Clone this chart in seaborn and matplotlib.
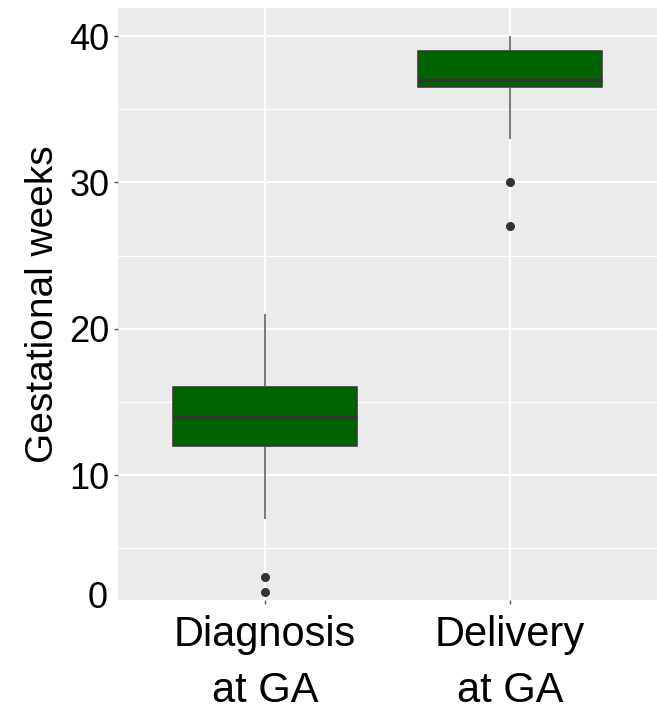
import matplotlib
matplotlib.use("Agg")
import matplotlib.pyplot as plt
import seaborn as sns
import pandas as pd

# Gestational age (weeks) per patient at each stage
stages = ["Diagnosis\nat GA", "Delivery\nat GA"]
diagnosis_weeks = [2, 3, 7, 12, 12, 13, 13, 14, 14, 15, 16, 16, 17, 19, 21]
delivery_weeks = [27, 30, 33, 36, 37, 37, 37, 37, 38, 38, 39, 39, 39, 40, 40]
y_ticks = [10, 20, 30, 40]

df = pd.DataFrame({
    "stage": [stages[0]] * len(diagnosis_weeks) + [stages[1]] * len(delivery_weeks),
    "weeks": diagnosis_weeks + delivery_weeks,
})

sns.set_theme(style="darkgrid")
plt.rcParams["font.family"] = ["Liberation Sans", "DejaVu Sans"]

fig = plt.figure(figsize=(6.57, 7.13), dpi=100)
ax = fig.add_axes([118 / 657, 1 - 600 / 713, 1 - 118 / 657, (600 - 8) / 713])
ax.set_facecolor("#EBEBEB")

sns.boxplot(
    data=df, x="stage", y="weeks", order=stages, ax=ax,
    color="#006400", saturation=1, linecolor="#333333", linewidth=1.1,
    width=0.75, showcaps=False,
    flierprops=dict(marker="o", markersize=5.5, markerfacecolor="#333333",
                    markeredgecolor="#333333"),
    medianprops=dict(linewidth=2.4, color="#333333"),
    whiskerprops=dict(color="#555555"),
)

ax.set_xlim(-0.6, 1.6)
ax.set_ylim(1.46, 41.92)
ax.set_yticks(y_ticks)
ax.set_yticks([5, 15, 25, 35], minor=True)
ax.grid(which="major", color="white", linewidth=1.4)
ax.grid(which="minor", axis="y", color="white", linewidth=0.8)
ax.set_axisbelow(True)
for s in ax.spines.values():
    s.set_visible(False)

ax.tick_params(axis="y", which="major", length=3, width=1, color="#555555",
               labelsize=26, pad=3, labelcolor="black", left=True)
ax.tick_params(axis="y", which="minor", length=0)
ax.tick_params(axis="x", length=3, width=1, color="#555555", labelsize=30,
               pad=8, labelcolor="black", bottom=True)
for lab in ax.get_xticklabels():
    lab.set_linespacing(1.5)

# Bottom axis label sits at the panel edge
fig.text(108 / 657, 1 - 598 / 713, "0", ha="right", va="center",
         fontsize=26, color="black")

ax.set_xlabel("")
ax.set_ylabel("Gestational weeks", fontsize=28, color="black", labelpad=6)

fig.savefig("out.png", dpi=100)
